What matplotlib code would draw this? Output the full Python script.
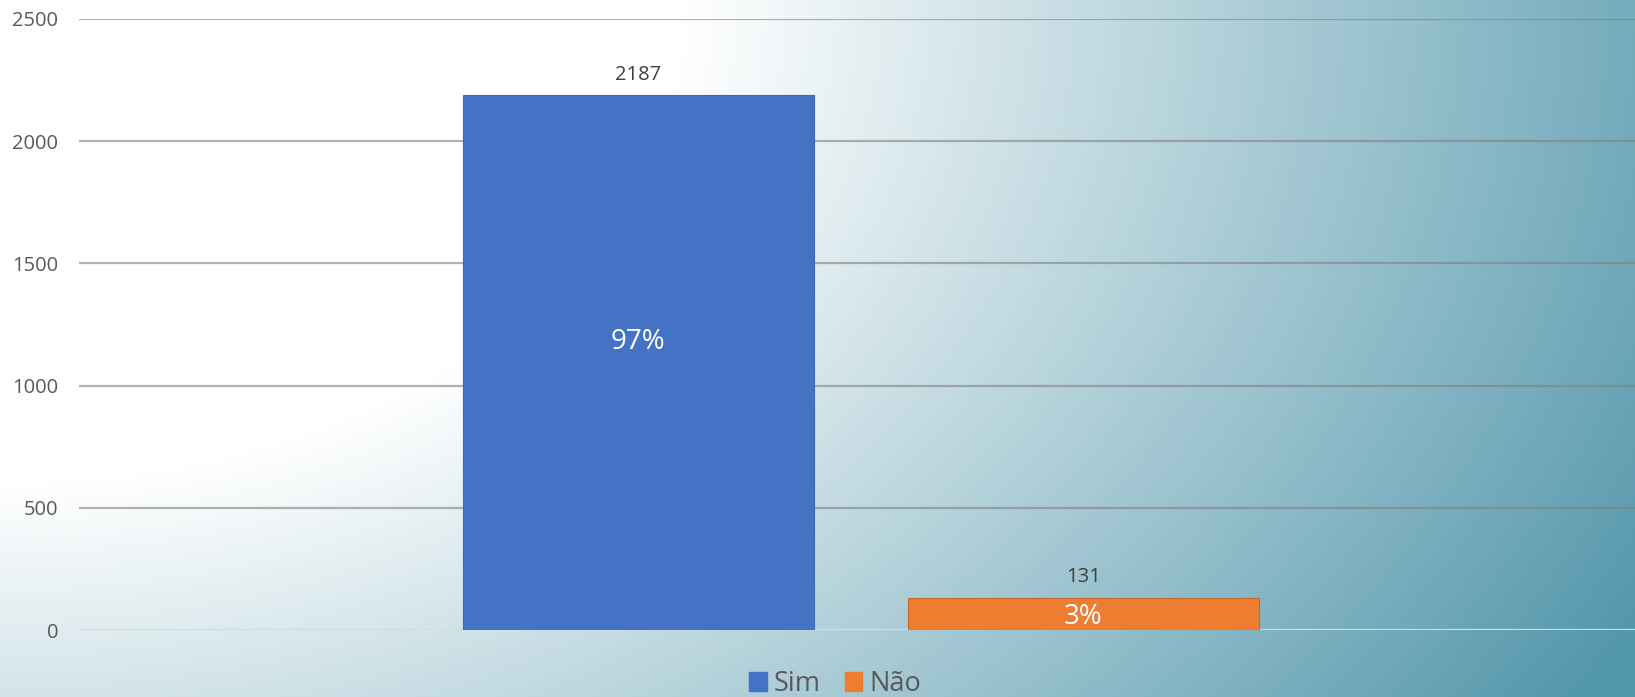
import numpy as np
import matplotlib
matplotlib.use("Agg")
import matplotlib.pyplot as plt

# data
series = ["Sim", "Não"]
values = [2187, 131]
pct_labels = ["97%", "3%"]
colors = ["#4472C4", "#ED7D31"]
edges = ["#3E68B3", "#C9692A"]
yticks = [0, 500, 1000, 1500, 2000, 2500]

plt.rcParams['font.family'] = ['Open Sans', 'DejaVu Sans']

W, H = 1635, 697
fig = plt.figure(figsize=(W / 100, H / 100), dpi=100)

# background gradient, white top-left to teal bottom-right
yy, xx = np.mgrid[0:H, 0:W]
r = np.sqrt((xx / W) ** 2 + (0.606 * yy / H) ** 2)
t = np.clip(1.4 * (r - 0.42), 0, 1)[..., None]
white = np.array([255, 255, 255]) / 255
teal = np.array([85, 152, 172]) / 255
img = white * (1 - t) + teal * t
bg = fig.add_axes([0, 0, 1, 1], zorder=0)
bg.imshow(img, aspect="auto", interpolation="bilinear")
bg.axis("off")

ax = fig.add_axes([79 / W, (H - 630) / H, (W - 79) / W, 611 / H], zorder=1)
ax.patch.set_alpha(0)

x = np.array([-0.5, 0.5])
bars = ax.bar(x, values, width=0.789, color=colors, edgecolor=edges, linewidth=0.8, zorder=3)

ax.set_xlim(-1.757, 1.740)
ax.set_ylim(0, 2500)
ax.set_yticks(yticks)
ax.set_xticks([])
for s in ax.spines.values():
    s.set_visible(False)
ax.tick_params(axis="y", length=0, pad=15, labelsize=14.5, labelcolor="#595959")

for v in yticks[1:]:
    ax.axhline(v, color="#808080", alpha=0.6, lw=1.6, zorder=1)
ax.axhline(0, color="#D9D9D9", lw=1.6, zorder=2)

# value labels above bars and percentages inside
pct_offsets = [15, -2]
for b, v, p, off in zip(bars, values, pct_labels, pct_offsets):
    cx = b.get_x() + b.get_width() / 2
    ax.annotate(str(v), (cx, v), xytext=(0, 15), textcoords="offset points",
                ha="center", va="center", fontsize=14.5, color="#404040")
    ax.annotate(p, (cx, v / 2), xytext=(0, off), textcoords="offset points",
                ha="center", va="center", fontsize=20, color="white")

handles = [plt.Rectangle((0, 0), 1, 1, color=c) for c in colors]
fig.legend(handles, series, loc="center", bbox_to_anchor=(835 / W, 1 - 684 / H),
           ncol=2, frameon=False, fontsize=19.5, labelcolor="#595959",
           handlelength=0.65, handleheight=0.65, handletextpad=0.25,
           columnspacing=0.9, borderaxespad=0, borderpad=0)

fig.savefig("out.png", dpi=100)
